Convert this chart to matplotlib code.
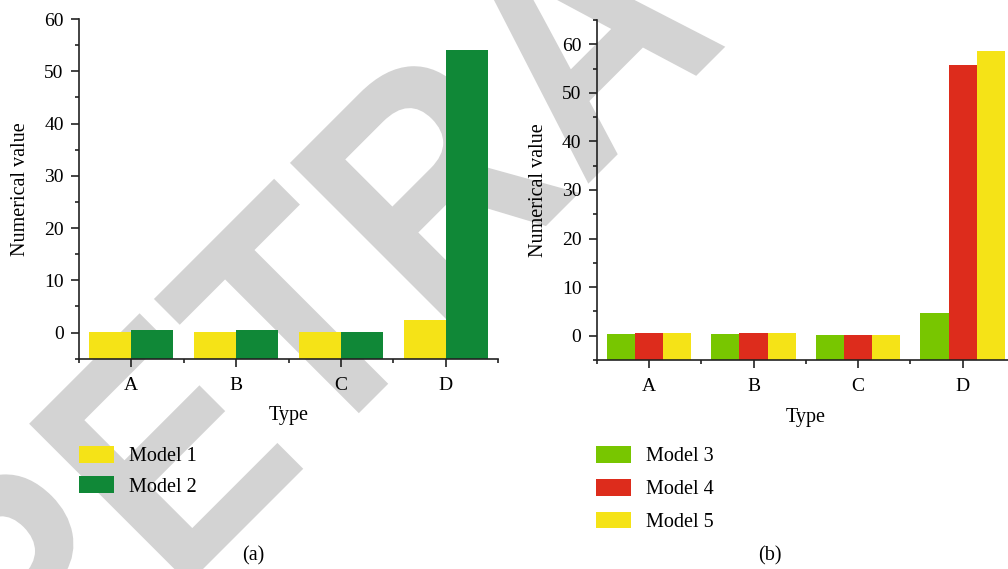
import matplotlib
matplotlib.use("Agg")
import matplotlib.pyplot as plt
import numpy as np
from matplotlib.ticker import MultipleLocator
from matplotlib.textpath import TextPath
from matplotlib.patches import PathPatch
from matplotlib.font_manager import FontProperties
from matplotlib.transforms import Affine2D, IdentityTransform

plt.rcParams['font.family'] = ['Liberation Serif', 'DejaVu Serif']

types = ['A', 'B', 'C', 'D']
model1 = [0.1, 0.1, 0.1, 2.4]
model2 = [0.5, 0.5, 0.1, 54.1]
model3 = [0.3, 0.3, 0.1, 4.6]
model4 = [0.55, 0.55, 0.15, 55.8]
model5 = [0.6, 0.6, 0.15, 58.7]

c_yellow = '#F5E317'
c_dkgreen = '#108837'
c_green = '#78C600'
c_red = '#DD2C1C'

W, H = 1008, 569
fig = plt.figure(figsize=(W / 100, H / 100), dpi=100)

# watermark (a bit condensed bold sans, at 45 degrees, behind the axes)
wm_prop = FontProperties(family='Liberation Sans', weight='bold')
wm_size = 328
wm = TextPath((0, 0), 'RETRACTED', size=wm_size, prop=wm_prop)
e_left = (TextPath((0, 0), 'RE', size=wm_size, prop=wm_prop).get_extents().x1
          - TextPath((0, 0), 'E', size=wm_size, prop=wm_prop).get_extents().width)
# point where the E starts on the baseline, in pixels (y up)
ex, ey = 188.7, H - 583.3
tr = Affine2D().translate(-e_left, 0).scale(0.88, 1).rotate_deg(45).translate(ex, ey)
fig.add_artist(PathPatch(tr.transform_path(wm), facecolor='#D3D3D3', edgecolor='none',
                         transform=IdentityTransform(), zorder=-5))

ax1 = fig.add_axes([79 / W, 1 - 358.7 / H, 419 / W, (358.7 - 19) / H])
ax2 = fig.add_axes([596.7 / W, 1 - 360 / H, 418.3 / W, (360 - 20) / H])

x = np.arange(len(types))
base = -5


def style(ax, ylim):
    ax.patch.set_alpha(0)
    for s in ['top', 'right']:
        ax.spines[s].set_visible(False)
    for s in ['left', 'bottom']:
        ax.spines[s].set_linewidth(1.2)
        ax.spines[s].set_color('#222222')
    ax.set_xlim(-0.5, 3.5)
    ax.set_ylim(*ylim)
    ax.set_xticks(x)
    ax.set_xticklabels(types)
    ax.set_xticks(np.arange(-0.5, 4, 1), minor=True)
    ax.yaxis.set_major_locator(MultipleLocator(10))
    ax.yaxis.set_minor_locator(MultipleLocator(5))
    ax.tick_params(which='major', length=6, width=1.2, labelsize=14,
                   color='#222222', pad=5)
    ax.tick_params(which='minor', length=3, width=1.2, color='#222222')
    ax.tick_params(axis='x', pad=7)
    ax.set_xlabel('Type', fontsize=14.5, labelpad=9)
    ax.set_ylabel('Numerical value', fontsize=14.5, labelpad=10)


w1 = 0.4
ax1.bar(x - w1 / 2, np.array(model1) - base, w1, bottom=base, color=c_yellow, label='Model 1')
ax1.bar(x + w1 / 2, np.array(model2) - base, w1, bottom=base, color=c_dkgreen, label='Model 2')
style(ax1, (-5, 60))

w2 = 0.27
ax2.bar(x - w2, np.array(model3) - base, w2, bottom=base, color=c_green, label='Model 3')
ax2.bar(x, np.array(model4) - base, w2, bottom=base, color=c_red, label='Model 4')
ax2.bar(x + w2, np.array(model5) - base, w2, bottom=base, color=c_yellow, label='Model 5')
style(ax2, (-5, 65))
ax2.set_yticks([0, 10, 20, 30, 40, 50, 60])

leg_kw = dict(frameon=False, fontsize=14.5, handlelength=1.75, handleheight=0.9,
              handletextpad=0.75, borderpad=0, borderaxespad=0,
              loc='upper left', bbox_transform=fig.transFigure)
ax1.legend(bbox_to_anchor=(79 / W, 1 - 446 / H), labelspacing=0.5, **leg_kw)
ax2.legend(bbox_to_anchor=(596 / W, 1 - 446 / H), labelspacing=0.62, **leg_kw)

fig.text(253 / W, 1 - 556 / H, '(a)', fontsize=14.5, ha='center', va='center')
fig.text(770 / W, 1 - 556 / H, '(b)', fontsize=14.5, ha='center', va='center')

fig.savefig('out.png', dpi=100)
